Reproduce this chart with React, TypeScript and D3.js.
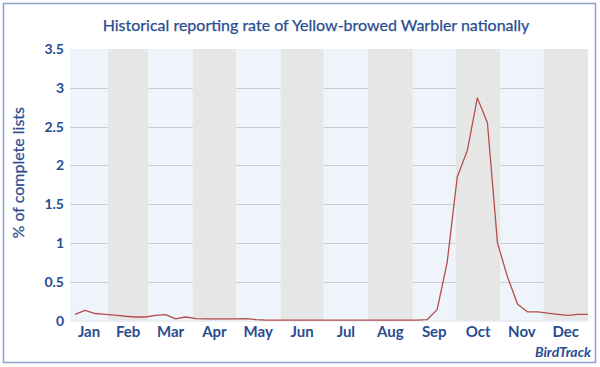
import React, { useEffect, useRef } from "react";
import * as d3 from "d3";

// month names and the day of year each month starts (last entry = year end)
const months = ["Jan", "Feb", "Mar", "Apr", "May", "Jun", "Jul", "Aug", "Sep", "Oct", "Nov", "Dec"];
const monthStartDays = [0, 31, 59, 90, 120, 151, 181, 212, 243, 273, 304, 334, 365];

// weekly reporting rate (% of complete lists), 52 weeks
const weeklyRate = [
  0.08, 0.13, 0.09, 0.08, 0.07, 0.055, 0.045, 0.045, 0.065, 0.075,
  0.02, 0.045, 0.025, 0.02, 0.02, 0.02, 0.02, 0.025, 0.01, 0.005,
  0.005, 0.005, 0.005, 0.005, 0.005, 0.005, 0.005, 0.005, 0.005, 0.005,
  0.005, 0.005, 0.005, 0.005, 0.005, 0.01, 0.14, 0.75, 1.85, 2.19,
  2.87, 2.55, 1.0, 0.56, 0.21, 0.11, 0.11, 0.095, 0.08, 0.065,
  0.08, 0.08,
];

const yTicks = [0, 0.5, 1, 1.5, 2, 2.5, 3, 3.5];

const title = "Historical reporting rate of Yellow-browed Warbler nationally";
const yLabel = "% of complete lists";
const credit = "BirdTrack";

const W = 600;
const H = 367;
const blue = "#2a4c91";
const font = "Lato, 'Open Sans', sans-serif";

const Chart = () => {
  const svgRef = useRef<SVGSVGElement>(null);

  useEffect(() => {
    const svg = d3.select(svgRef.current);
    svg.selectAll("*").remove();

    const plot = { left: 70, right: 588, top: 49, bottom: 320.5 };

    // x in week units; week i sits at day 8 + 7i
    const dayToWeek = (d: number) => (d - 8) / 7;
    const x = d3.scaleLinear().domain([-0.5, weeklyRate.length - 1]).range([plot.left, plot.right]);
    const y = d3.scaleLinear().domain([0, 3.5]).range([plot.bottom, plot.top]);

    // frame
    svg
      .append("rect")
      .attr("x", 3.5)
      .attr("y", 3.5)
      .attr("width", 592)
      .attr("height", 359)
      .attr("fill", "white")
      .attr("stroke", "#8ca2cb")
      .attr("stroke-width", 1.5);

    svg
      .append("text")
      .attr("x", 316)
      .attr("y", 31)
      .attr("text-anchor", "middle")
      .attr("font-family", font)
      .attr("font-size", 16)
      .attr("fill", blue)
      .style("stroke", blue)
      .style("stroke-width", 0.25)
      .text(title);

    const bands = months.map((m, i) => ({
      name: m,
      x0: Math.max(plot.left, x(dayToWeek(monthStartDays[i]))),
      x1: Math.min(plot.right, x(dayToWeek(monthStartDays[i + 1]))),
      even: i % 2 === 0,
    }));

    const g = svg.append("g");

    g.selectAll(".band-light")
      .data(bands.filter((b) => b.even))
      .enter()
      .append("rect")
      .attr("x", (d) => d.x0)
      .attr("width", (d) => d.x1 - d.x0)
      .attr("y", plot.top)
      .attr("height", plot.bottom - plot.top)
      .attr("fill", "#eef4f9");

    g.selectAll(".grid")
      .data(yTicks.filter((t) => t > 0 && t < 3.5))
      .enter()
      .append("line")
      .attr("x1", plot.left)
      .attr("x2", plot.right)
      .attr("y1", (d) => Math.round(y(d)) + 0.5)
      .attr("y2", (d) => Math.round(y(d)) + 0.5)
      .attr("stroke", "#c9ced4")
      .attr("stroke-width", 1);

    g.selectAll(".band-grey")
      .data(bands.filter((b) => !b.even))
      .enter()
      .append("rect")
      .attr("x", (d) => d.x0)
      .attr("width", (d) => d.x1 - d.x0)
      .attr("y", plot.top)
      .attr("height", plot.bottom - plot.top)
      .attr("fill", "#e6e6e6");

    // baseline
    g.append("line")
      .attr("x1", plot.left)
      .attr("x2", plot.right)
      .attr("y1", plot.bottom + 0.5)
      .attr("y2", plot.bottom + 0.5)
      .attr("stroke", "#dde3ea")
      .attr("stroke-width", 1);

    const line = d3
      .line<number>()
      .x((_, i) => x(i))
      .y((d) => y(d));

    g.append("path")
      .datum(weeklyRate)
      .attr("d", line)
      .attr("fill", "none")
      .attr("stroke", "#b34e4d")
      .attr("stroke-width", 1.3)
      .attr("stroke-linejoin", "round");

    // y tick labels
    svg
      .selectAll(".ytick")
      .data(yTicks)
      .enter()
      .append("text")
      .attr("x", 64)
      .attr("y", (d) => y(d) + 5)
      .attr("text-anchor", "end")
      .attr("font-family", font)
      .attr("font-weight", "bold")
      .attr("font-size", 14)
      .attr("fill", blue)
      .text((d) => String(d));

    // month labels
    svg
      .selectAll(".xtick")
      .data(bands)
      .enter()
      .append("text")
      .attr("x", (d) => (d.x0 + d.x1) / 2)
      .attr("y", 337)
      .attr("text-anchor", "middle")
      .attr("font-family", font)
      .attr("font-weight", "bold")
      .attr("font-size", 15)
      .attr("fill", blue)
      .text((d) => d.name);

    svg
      .append("text")
      .attr("transform", `translate(24, ${(plot.top + plot.bottom) / 2 - 12}) rotate(-90)`)
      .attr("text-anchor", "middle")
      .attr("font-family", font)
      .attr("font-size", 16)
      .attr("fill", blue)
      .style("stroke", blue)
      .style("stroke-width", 0.25)
      .text(yLabel);

    svg
      .append("text")
      .attr("x", 591)
      .attr("y", 357)
      .attr("text-anchor", "end")
      .attr("font-family", font)
      .attr("font-weight", "bold")
      .attr("font-style", "italic")
      .attr("font-size", 14)
      .attr("fill", blue)
      .text(credit);
  }, []);

  return (
    <svg
      ref={svgRef}
      width={W}
      height={H}
      style={{ position: "absolute", left: 0, top: 0, display: "block" }}
    />
  );
};

export default function App() {
  return <Chart />;
}
